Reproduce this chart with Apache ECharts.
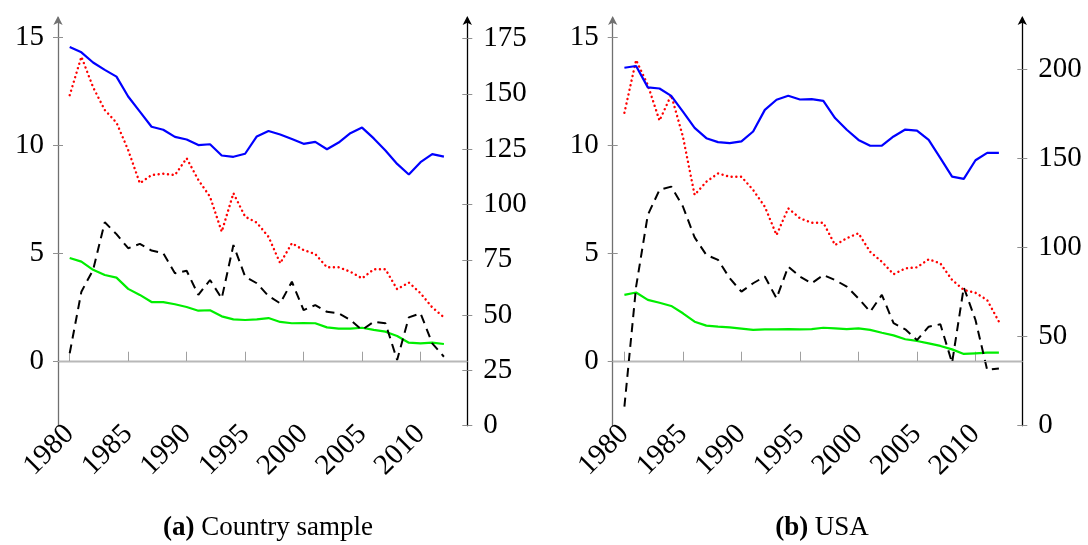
<!DOCTYPE html>
<html>
<head>
<meta charset="utf-8">
<script src="https://cdn.jsdelivr.net/npm/echarts@6/dist/echarts.min.js"></script>
<style>html,body{margin:0;padding:0;background:#fff;}#c{width:1088px;height:545px;}</style>
</head>
<body>
<div id="c"></div>
<script>
const years = [];
for (let y = 1980; y <= 2012; y++) years.push(y);
const xTicks = [1980, 1985, 1990, 1995, 2000, 2005, 2010];
const leftTicks = [0, 5, 10, 15];
const rightTicksA = [0, 25, 50, 75, 100, 125, 150, 175];
const rightTicksB = [0, 50, 100, 150, 200];

// Panel (a) Country sample
const aBlue  = [14.56,14.31,13.84,13.50,13.19,12.27,11.57,10.87,10.73,10.40,10.28,10.02,10.06,9.54,9.48,9.62,10.42,10.67,10.51,10.30,10.08,10.17,9.83,10.14,10.57,10.83,10.33,9.77,9.15,8.66,9.23,9.60,9.49];
const aRed   = [149.4,166.8,153.0,142.7,137.0,124.6,109.6,113.3,113.9,113.3,120.9,111.1,103.5,87.7,105.1,94.5,91.8,85.4,73.4,82.5,79.4,77.6,71.6,71.6,69.6,66.6,70.7,70.7,61.7,64.7,59.9,53.5,49.0];
const aBlack = [0.39,3.24,4.25,6.45,5.90,5.25,5.45,5.14,5.02,4.09,4.21,3.09,3.78,2.93,5.40,3.94,3.63,3.04,2.70,3.70,2.39,2.62,2.31,2.24,1.93,1.47,1.85,1.78,0.08,2.05,2.24,0.85,0.23];
const aGreen = [4.80,4.63,4.25,4.01,3.89,3.37,3.09,2.76,2.76,2.66,2.53,2.36,2.38,2.10,1.96,1.93,1.96,2.02,1.84,1.78,1.79,1.78,1.59,1.53,1.53,1.57,1.47,1.39,1.19,0.88,0.85,0.88,0.82];

// Panel (b) USA
const bBlue  = [13.60,13.68,12.69,12.64,12.30,11.57,10.82,10.34,10.16,10.11,10.19,10.65,11.65,12.12,12.30,12.13,12.15,12.07,11.27,10.73,10.26,9.99,10.00,10.42,10.74,10.69,10.26,9.42,8.56,8.46,9.32,9.66,9.66];
const bRed   = [175.6,205.2,191.2,171.2,185.6,162.2,129.5,136.9,141.6,139.7,139.7,132.3,122.9,107.0,122.0,116.4,113.9,113.9,101.4,105.2,108.0,97.6,92.0,85.0,88.3,88.9,93.4,91.1,81.8,76.2,74.6,70.5,58.4];
const bBlack = [-2.08,3.47,6.79,7.95,8.10,7.18,5.75,4.94,4.71,3.86,3.24,3.63,3.94,2.93,4.40,3.94,3.63,4.01,3.78,3.47,2.93,2.31,3.09,1.78,1.50,1.00,1.62,1.73,-0.05,3.44,1.93,-0.38,-0.31];
const bGreen = [3.09,3.20,2.86,2.73,2.58,2.24,1.85,1.67,1.62,1.59,1.53,1.47,1.50,1.50,1.51,1.50,1.51,1.57,1.54,1.51,1.54,1.47,1.34,1.22,1.04,0.96,0.85,0.73,0.57,0.36,0.39,0.42,0.42];

const FONT = "'Liberation Serif', 'DejaVu Serif', serif";
const pair = arr => years.map((y, i) => [y, arr[i]]);
const LMIN = -2.96, LMAX = 15.9;
const plain = v => String(v);

const grids = [
  {left: 58, right: 620.7, top: 18, bottom: 119.3},
  {left: 612.7, right: 65.7, top: 18, bottom: 119.3}
];

function xAxis(g) {
  return {
    type: 'value', gridIndex: g, min: 1979, max: 2014,
    axisLine: {lineStyle: {color: '#707070', width: 1.3}},
    axisTick: {inside: true, length: 10, customValues: xTicks, lineStyle: {color: '#a0a0a0', width: 1}},
    axisLabel: {customValues: xTicks, formatter: plain, rotate: 45, margin: 4, color: '#000', fontFamily: FONT, fontSize: 29},
    splitLine: {show: false}
  };
}
function yAxes(g, rmax, rticks) {
  const tickStyle = {color: '#909090', width: 1};
  return [
    { // left main
      type: 'value', gridIndex: g, position: 'left', min: LMIN, max: LMAX,
      axisLine: {show: true, onZero: false, lineStyle: {color: '#707070', width: 1.3}, symbol: ['none', 'arrow'], symbolSize: [7, 9], symbolOffset: [0, 2]},
      axisTick: {show: true, length: 5, customValues: leftTicks, lineStyle: tickStyle},
      axisLabel: {customValues: leftTicks, formatter: plain, margin: 14, color: '#000', fontFamily: FONT, fontSize: 29},
      splitLine: {show: false}
    },
    { // right main
      type: 'value', gridIndex: g, position: 'right', min: 0, max: rmax,
      axisLine: {show: true, onZero: false, lineStyle: {color: '#000', width: 1.3}, symbol: ['none', 'arrow'], symbolSize: [7, 9], symbolOffset: [0, 2]},
      axisTick: {show: true, length: 5, customValues: rticks, lineStyle: tickStyle},
      axisLabel: {customValues: rticks, formatter: plain, margin: 16, color: '#000', fontFamily: FONT, fontSize: 29},
      splitLine: {show: false}
    },
    { // left inner tick halves
      type: 'value', gridIndex: g, position: 'left', min: LMIN, max: LMAX,
      axisLine: {show: false},
      axisTick: {show: true, inside: true, length: 5, customValues: leftTicks, lineStyle: tickStyle},
      axisLabel: {show: false}, splitLine: {show: false}
    },
    { // right inner tick halves
      type: 'value', gridIndex: g, position: 'right', min: 0, max: rmax,
      axisLine: {show: false},
      axisTick: {show: true, inside: true, length: 5, customValues: rticks, lineStyle: tickStyle},
      axisLabel: {show: false}, splitLine: {show: false}
    }
  ];
}

function panelSeries(g, blue, red, black, green) {
  const base = {type: 'line', symbol: 'none', silent: true, animation: false, xAxisIndex: g};
  const li = g * 4, ri = g * 4 + 1;
  return [
    Object.assign({}, base, {name: 'zero' + g, yAxisIndex: li, data: [], z: 1,
      markLine: {silent: true, symbol: 'none', label: {show: false}, animation: false,
        lineStyle: {color: '#b8b8b8', type: 'solid', width: 1.2}, data: [{yAxis: 0}]}}),
    Object.assign({}, base, {yAxisIndex: li, data: pair(green), lineStyle: {color: '#00ee00', width: 2.2}}),
    Object.assign({}, base, {yAxisIndex: li, data: pair(black), lineStyle: {color: '#000', width: 2, type: [9, 6]}}),
    Object.assign({}, base, {yAxisIndex: ri, data: pair(red), lineStyle: {color: '#ff0000', width: 2.4, type: [0.1, 4.6], cap: 'round'}}),
    Object.assign({}, base, {yAxisIndex: li, data: pair(blue), lineStyle: {color: '#0000ff', width: 2.2}})
  ];
}

const chart = echarts.init(document.getElementById('c'), null, {renderer: 'canvas'});
const capRich = {b: {fontFamily: FONT, fontSize: 27, fontWeight: 'bold', fill: '#000'}, n: {fontFamily: FONT, fontSize: 27, fill: '#000'}};
chart.setOption({
  animation: false,
  backgroundColor: '#fff',
  grid: grids,
  xAxis: [xAxis(0), xAxis(1)],
  yAxis: yAxes(0, 184.3, rightTicksA).concat(yAxes(1, 228.8, rightTicksB)),
  series: panelSeries(0, aBlue, aRed, aBlack, aGreen).concat(panelSeries(1, bBlue, bRed, bBlack, bGreen)),
  graphic: [
    {type: 'text', x: 268, y: 528, style: {
      text: '{b|(a)}  {n|Country sample}', align: 'center', verticalAlign: 'middle', rich: capRich}},
    {type: 'text', x: 822, y: 528, style: {
      text: '{b|(b)}  {n|USA}', align: 'center', verticalAlign: 'middle', rich: capRich}}
  ]
});
</script>
</body>
</html>
